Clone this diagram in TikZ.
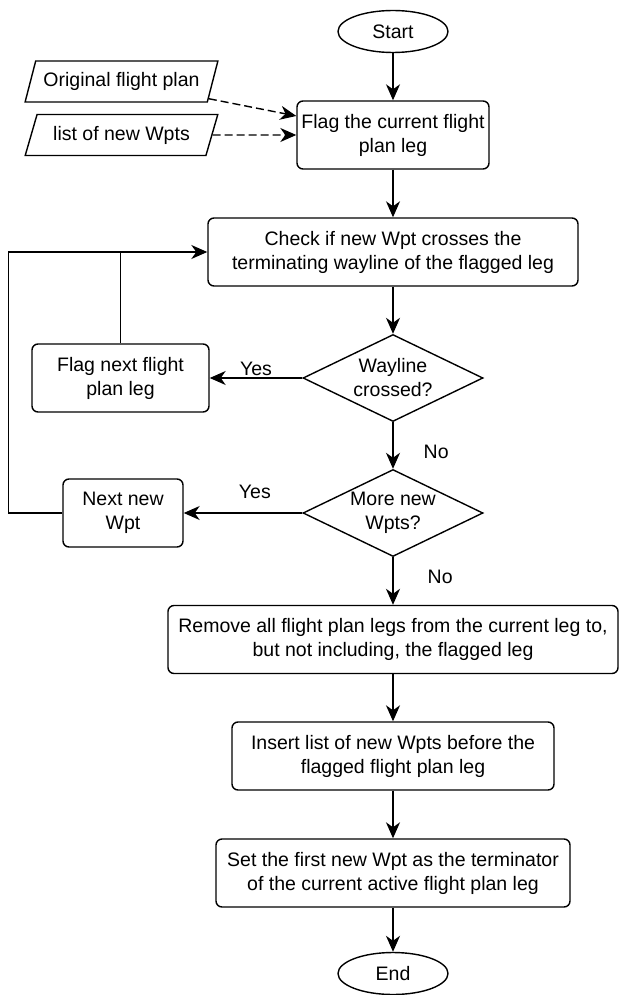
\documentclass[tikz,border=0pt]{standalone}
\usepackage{fontspec}
\setmainfont{Liberation Sans}
\usepackage{tikz}
\usetikzlibrary{
  	shapes.geometric,
  	arrows.meta,
  	positioning,
  	calc
  }
\tikzstyle{term}=[ellipse,draw,line width=1.4pt,minimum width=110pt,minimum height=42pt,inner sep=0pt]
\tikzstyle{proc}=[rectangle,draw,line width=1.4pt,rounded corners=6pt,align=center,minimum height=68pt,inner sep=3pt]
\tikzstyle{dec}=[diamond,draw,line width=1.4pt,aspect=2,align=center,minimum width=180pt,minimum height=87pt,inner sep=-4pt]
\tikzstyle{io}=[trapezium,trapezium left angle=66,trapezium right angle=114,trapezium stretches=true,draw,line width=1.4pt,minimum width=193pt,minimum height=41pt,inner sep=2pt]
\tikzstyle{arr}=[line width=1.4pt,-{Stealth[length=16pt,width=14pt,inset=5pt]}]
\tikzstyle{lbl}=[inner sep=2pt]

\begin{document}
\begin{tikzpicture}[font=\fontsize{19.5}{24}\selectfont,x=1pt,y=-1pt]
\useasboundingbox (0,0) rectangle (619,995);
\node[term] (start) at (393,31.5) {Start};
\path (start)++(0,103.5) node[proc,minimum width=192pt] (flag) {Flag the current flight\\plan leg};
\path (flag)++(-271.5,-53.5) node[io] (orig) {Original flight plan};
\path (flag)++(-271.5,0) node[io] (wpts) {list of new Wpts};
\path (flag)++(0,117) node[proc,minimum width=370pt] (check) {Check if new Wpt crosses the\\terminating wayline of the flagged leg};
\path (check)++(0,126) node[dec] (cross) {Wayline\\crossed?};
\path (cross)++(-272.5,0) node[proc,minimum width=177pt] (flagnext) {Flag next flight\\plan leg};
\path (cross)++(0,135) node[dec] (more) {More new\\Wpts?};
\path (more)++(-270,0) node[proc,minimum width=120pt] (nextwpt) {Next new\\Wpt};
\path (more)++(0,126.5) node[proc,minimum width=450pt] (remove) {Remove all flight plan legs from the current leg to,\\but not including, the flagged leg};
\path (remove)++(0,116.5) node[proc,minimum width=322pt] (insert) {Insert list of new Wpts before the\\flagged flight plan leg};
\path (insert)++(0,117) node[proc,minimum width=354pt] (set) {Set the first new Wpt as the terminator\\of the current active flight plan leg};
\path (set)++(0,100.5) node[term] (stop) {End};
\draw[arr] (start) -- (flag);
\draw[arr,dash pattern=on 8pt off 4pt] (orig) -- (flag);
\draw[arr,dash pattern=on 8pt off 4pt] (wpts) -- (flag);
\draw[arr] (flag) -- (check);
\draw[arr] (check) -- (cross);
\draw[arr] (cross) -- node[lbl,above] (yes1) {Yes} (flagnext);
\draw[arr] (cross) -- node[lbl,pos=0.63,right=28pt] (no1) {No} (more);
\draw[arr] (more) -- node[lbl,pos=0.4,above=12pt] (yes2) {Yes} (nextwpt);
\draw[arr] (more) -- node[lbl,pos=0.42,right=32pt] (no2) {No} (remove);
\draw[arr] (nextwpt.west) -- ++(-54,0) |- (check.west);
\draw[line width=1.4pt] (flagnext.north) -- (flagnext.north |- check.west);
\draw[arr] (remove) -- (insert);
\draw[arr] (insert) -- (set);
\draw[arr] (set) -- (stop);
\end{tikzpicture}
\end{document}
